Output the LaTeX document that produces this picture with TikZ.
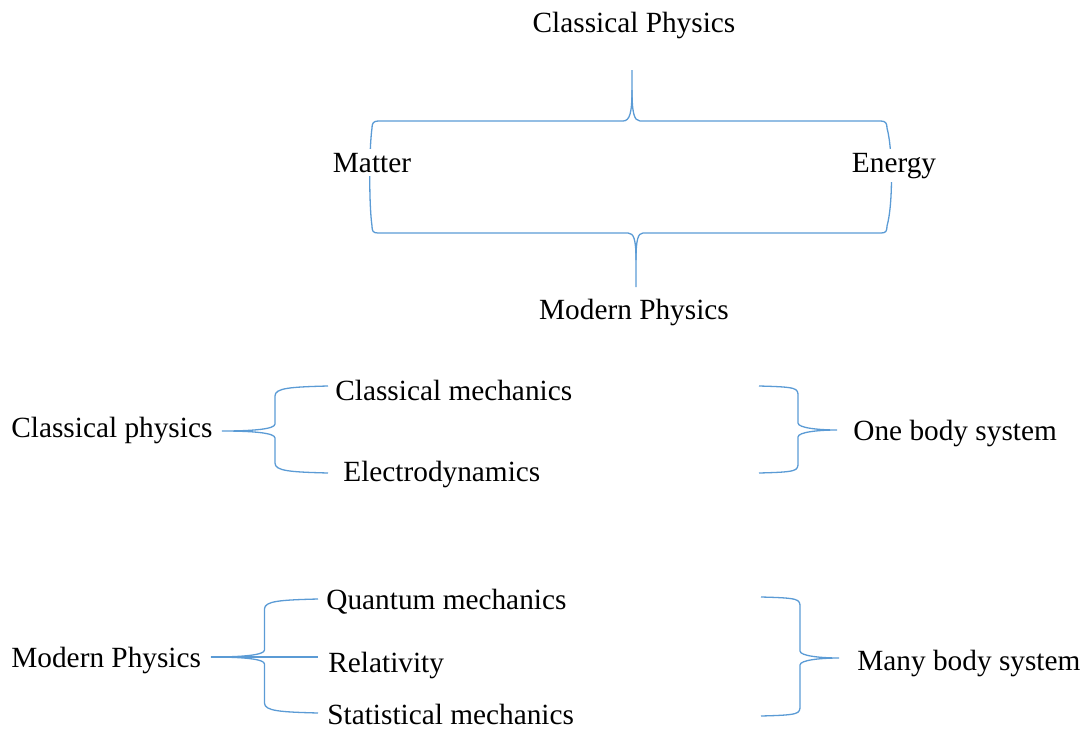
\documentclass[tikz,border=0pt]{standalone}
\usepackage{fontspec}
\setmainfont{Liberation Serif}
\usepackage{xcolor}
\usetikzlibrary{calc, positioning}
\definecolor{curlblue}{RGB}{91,155,213}

% curly braces: tip, upper end, lower end
\newcommand{\leftcurl}[3]{%
  \draw[curl] let \p1=(#1), \p2=(#2), \p3=(#3), \p4=($(#1)!.5!(#2)$) in
    (\p2) .. controls (\x2-19pt,\y2-0.5pt) and (\x4,\y2-1pt) .. (\x4,\y2-5pt)
    -- (\x4,\y1+3.5pt) .. controls (\x4,\y1+1pt) and (\x4-10.5pt,\y1) .. (\p1)
    .. controls (\x4-10.5pt,\y1) and (\x4,\y1-1pt) .. (\x4,\y1-3.5pt)
    -- (\x4,\y3+5pt) .. controls (\x4,\y3+1pt) and (\x3-19pt,\y3+0.5pt) .. (\p3);}
\newcommand{\rightcurl}[3]{%
  \draw[curl] let \p1=(#1), \p2=(#2), \p3=(#3), \p4=($(#1)!.5!(#2)$) in
    (\p2) .. controls (\x2+19pt,\y2-0.5pt) and (\x4,\y2-1pt) .. (\x4,\y2-5pt)
    -- (\x4,\y1+3.5pt) .. controls (\x4,\y1+1pt) and (\x4+10.5pt,\y1) .. (\p1)
    .. controls (\x4+10.5pt,\y1) and (\x4,\y1-1pt) .. (\x4,\y1-3.5pt)
    -- (\x4,\y3+5pt) .. controls (\x4,\y3+1pt) and (\x3+19pt,\y3+0.5pt) .. (\p3);}

\begin{document}
\begin{tikzpicture}[
            x=0.5pt, y=-0.5pt,
            curl/.style={draw=curlblue, line width=0.65pt},
            lbl/.style={inner sep=0pt, anchor=base west, font=\fontsize{14.65}{17}\selectfont},
            cover/.style={lbl, anchor=base, fill=white, inner sep=2pt}
        ]
            \useasboundingbox (0,0) rectangle (1084,729);

% Nodes
            \node[lbl, anchor=base] (cpTitle) at (634,32) {Classical Physics};
            \node[lbl, anchor=base] (mpTitle) at (634,319) {Modern Physics};
            \node[lbl] (cphys) at (11,437) {Classical physics};
            \node[lbl] (cmech) at (335,400) {Classical mechanics};
            \node[lbl] (edyn) at (343,481) {Electrodynamics};
            \node[lbl] (onebody) at (853,440) {One body system};
            \node[lbl] (mphys) at (11,667) {Modern Physics};
            \node[lbl] (qmech) at (326,609) {Quantum mechanics};
            \node[lbl] (relat) at (328,672) {Relativity};
            \node[lbl] (smech) at (327,724) {Statistical mechanics};
            \node[lbl] (manybody) at (857,670) {Many body system};

% Brace points
            \coordinate (cpStem) at (632,70);
            \coordinate (mpStem) at (636,287);
            \coordinate (cpTip) at (222,431);
            \coordinate (cmEnd) at (328,386);
            \coordinate (edEnd) at (328,473);
            \coordinate (obTip) at (837,430);
            \coordinate (obTop) at (759,386);
            \coordinate (obBot) at (759,473);
            \coordinate (mpTip) at (211,657);
            \coordinate (qmEnd) at (318,599);
            \coordinate (reEnd) at (318,657);
            \coordinate (smEnd) at (318,713);
            \coordinate (mbTip) at (839,658);
            \coordinate (mbTop) at (761,597);
            \coordinate (mbBot) at (761,716);

% Frame between the two titles
            \draw[curl] (cpStem) -- (632,90) .. controls (632,112) and (630,121) .. (623,121) -- (378,121)
                .. controls (373,121) and (372,124) .. (372,128) .. controls (369,150) and (369,205) .. (372,226)
                .. controls (372,231) and (373,233) .. (378,233) -- (628,233)
                .. controls (634,233) and (636,240) .. (636,260) -- (mpStem);
            \draw[curl] (632,90) .. controls (632,112) and (634,121) .. (640,121) -- (881,121)
                .. controls (886,121) and (887,124) .. (887,128) .. controls (893,150) and (893,205) .. (887,226)
                .. controls (887,231) and (886,233) .. (881,233) -- (643,233)
                .. controls (638,233) and (636,240) .. (636,260);
            \node[cover] (matter) at (372,172) {Matter};
            \node[cover] (energy) at (894,172) {Energy};

% Edges
            \leftcurl{cpTip}{cmEnd}{edEnd}
            \rightcurl{obTip}{obTop}{obBot}
            \leftcurl{mpTip}{qmEnd}{smEnd}
            \draw[curl] (mpTip) -- (reEnd);
            \rightcurl{mbTip}{mbTop}{mbBot}

        \end{tikzpicture}
\end{document}
